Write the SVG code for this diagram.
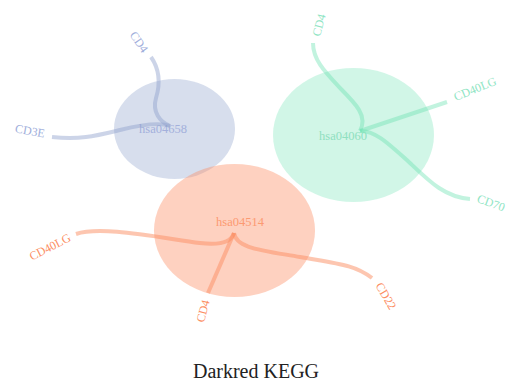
<svg xmlns="http://www.w3.org/2000/svg" width="508" height="387" viewBox="0 0 508 387">
<style>
text{font-family:"Liberation Serif","DejaVu Serif",serif;}
.lbl{font-size:12px;text-anchor:middle;dominant-baseline:central;}
.hub{font-size:12.5px;text-anchor:middle;}
.e{fill:none;stroke-width:4;stroke-linecap:butt;}
.b{stroke:#8da0cb;stroke-opacity:0.45;}
.g{stroke:#66e0b0;stroke-opacity:0.4;}
.o{stroke:#fc8d62;stroke-opacity:0.5;}
</style>
<rect width="508" height="387" fill="#fff"/>
<g id="hsa04658">
<ellipse cx="174.5" cy="129" rx="60.5" ry="50" fill="#8da0cb" fill-opacity="0.35"/>
<text class="hub" x="163" y="133" fill="#a3b0dc">hsa04658</text>
</g>
<g id="hsa04060">
<ellipse cx="353.5" cy="135" rx="80.5" ry="67" fill="#66e0b0" fill-opacity="0.3"/>
<text class="hub" x="343" y="140" fill="#8fe0c0">hsa04060</text>
</g>
<g id="hsa04514">
<ellipse cx="234.5" cy="230.5" rx="80.5" ry="66.5" fill="#fc8d62" fill-opacity="0.4"/>
<text class="hub" x="240" y="226" fill="#fc9a72">hsa04514</text>
</g>
<g id="connectors">
<path class="e b" d="M151,57 C160,70 160,85 156,98 C152,112 160,122 170,126"/>
<path class="e b" d="M52,137 C80,140 95,136 120,130 C140,125 160,122 170,126"/>
<path class="e g" d="M313,43 C313,60 325,72 340,88 C356,104 368,116 360,131"/>
<path class="e g" d="M447,102 L360,131"/>
<path class="e g" d="M360,131 C375,130 390,145 410,163 C430,182 445,197 470,199"/>
<path class="e o" d="M76,234 C100,226 150,236 200,243 C225,246 232,240 234,233"/>
<path class="e o" d="M234,233 L208,293"/>
<path class="e o" d="M234,233 C236,248 260,250 300,257 C340,264 355,265 372,278"/>
</g>
<g id="labels">
<text class="lbl" fill="#a0aedb" transform="translate(139,42) rotate(55)">CD4</text>
<text class="lbl" fill="#a0aedb" transform="translate(30,131) rotate(10)">CD3E</text>
<text class="lbl" fill="#8fe5c4" transform="translate(319,25) rotate(-75)">CD4</text>
<text class="lbl" fill="#8fe5c4" transform="translate(475,89) rotate(-22)">CD40LG</text>
<text class="lbl" fill="#8fe5c4" transform="translate(491,203) rotate(20)">CD70</text>
<text class="lbl" fill="#fc8d62" transform="translate(50,247) rotate(-27)">CD40LG</text>
<text class="lbl" fill="#fc8d62" transform="translate(203,311) rotate(-75)">CD4</text>
<text class="lbl" fill="#fc8d62" transform="translate(386,296) rotate(60)">CD22</text>
</g>
<text x="256" y="378" font-size="20" text-anchor="middle" fill="#222">Darkred KEGG</text>
</svg>
